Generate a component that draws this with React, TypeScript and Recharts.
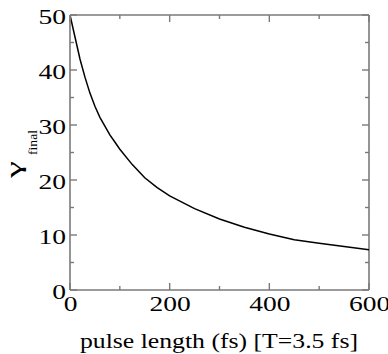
import React from "react";
import { LineChart, Line, XAxis, YAxis, Label, ReferenceLine } from "recharts";

const pulseLength = [0, 10, 20, 30, 40, 50, 60, 70, 80, 90, 100, 125, 150, 175, 200, 250, 300, 350, 400, 450, 500, 550, 600];
const gammaFinal = [50, 46, 42, 38.7, 35.8, 33.4, 31.4, 29.8, 28.2, 26.9, 25.6, 22.8, 20.4, 18.6, 17.1, 14.8, 12.9, 11.4, 10.2, 9.15, 8.5, 7.9, 7.3];

const xTicks = [0, 100, 200, 300, 400, 500, 600];
const xLabelTicks = [0, 200, 400, 600];
const yTicks = [0, 5, 10, 15, 20, 25, 30, 35, 40, 45, 50];
const yLabelTicks = [0, 10, 20, 30, 40, 50];

const xTitle = "pulse length (fs) [T=3.5 fs]";
const yTitleMain = "γ";
const yTitleSub = "final";

const data = pulseLength.map((x, i) => ({ x, y: gammaFinal[i] }));

const W = 388;
const H = 354;
const MARGIN = { top: 15, right: 19, bottom: 0, left: 0 };
const PLOT_TOP = MARGIN.top;
const PLOT_RIGHT = W - MARGIN.right;

const AXIS = "#7a7a7a";
const FONT = '"Liberation Serif", "Times New Roman", serif';
const fontStyle = { fontFamily: FONT };
const MAJOR = 7;
const MINOR = 4;

const digitLen = (s: string, fs: number) => s.length * 0.5 * fs * 1.25;

function BottomTick(props: any) {
  const { x, y, payload } = props;
  const v = payload.value;
  const major = xLabelTicks.includes(v);
  const len = major ? MAJOR : MINOR;
  const s = String(v);
  return (
    <g>
      <line x1={x} x2={x} y1={y} y2={y - len} stroke={AXIS} strokeWidth={1.4} />
      <line x1={x} x2={x} y1={PLOT_TOP} y2={PLOT_TOP + len} stroke={AXIS} strokeWidth={1.4} />
      {major && (
        <text x={x + 0.5} y={y + 21} textAnchor="middle" style={fontStyle} fontSize={22} fill="#000"
          textLength={digitLen(s, 22)} lengthAdjust="spacingAndGlyphs">{s}</text>
      )}
    </g>
  );
}

function LeftTick(props: any) {
  const { x, y, payload } = props;
  const v = payload.value;
  const major = yLabelTicks.includes(v);
  const len = major ? MAJOR : MINOR;
  const s = String(v);
  return (
    <g>
      <line x1={x} x2={x + len} y1={y} y2={y} stroke={AXIS} strokeWidth={1.4} />
      <line x1={PLOT_RIGHT} x2={PLOT_RIGHT - len} y1={y} y2={y} stroke={AXIS} strokeWidth={1.4} />
      {major && (
        <text x={x - 4} y={y + 8.5} textAnchor="end" style={fontStyle} fontSize={22} fill="#000"
          textLength={digitLen(s, 22)} lengthAdjust="spacingAndGlyphs">{s}</text>
      )}
    </g>
  );
}

const XTitle = () => (
  <text x={80} y={347.5} style={fontStyle} fontSize={20} fill="#000" textLength={278} lengthAdjust="spacingAndGlyphs">
    {xTitle}
  </text>
);

const YTitle = () => (
  <g transform="rotate(-90)">
    <text x={-178} y={21} style={fontStyle} fontSize={22} fill="#000" textLength={17} lengthAdjust="spacingAndGlyphs">
      {yTitleMain}
    </text>
    <text x={-155} y={37} style={fontStyle} fontSize={13.5} fill="#000" textLength={25} lengthAdjust="spacingAndGlyphs">
      {yTitleSub}
    </text>
  </g>
);

export default function App() {
  return (
    <div style={{ position: "absolute", left: 0, top: 0, width: W, height: H, background: "#fff" }}>
      <LineChart width={W} height={H} data={data} margin={MARGIN}>
        <XAxis xAxisId="b" dataKey="x" type="number" domain={[0, 600]} ticks={xTicks} interval={0}
          allowDataOverflow height={64} axisLine={{ stroke: AXIS, strokeWidth: 1.6 }} tickLine={false}
          tickSize={0} tickMargin={0} tick={BottomTick}>
          <Label content={<XTitle />} />
        </XAxis>
        <YAxis yAxisId="l" type="number" domain={[0, 50]} ticks={yTicks} interval={0} allowDataOverflow
          width={70} axisLine={{ stroke: AXIS, strokeWidth: 1.6 }} tickLine={false} tickSize={0} tickMargin={0}
          tick={LeftTick}>
          <Label content={<YTitle />} />
        </YAxis>
        <ReferenceLine xAxisId="b" yAxisId="l" y={50} stroke={AXIS} strokeWidth={1.6} ifOverflow="visible" />
        <ReferenceLine xAxisId="b" yAxisId="l" x={600} stroke={AXIS} strokeWidth={1.6} ifOverflow="visible" />
        <Line xAxisId="b" yAxisId="l" dataKey="y" type="linear" stroke="#000" strokeWidth={1.5}
          dot={false} isAnimationActive={false} />
      </LineChart>
    </div>
  );
}
